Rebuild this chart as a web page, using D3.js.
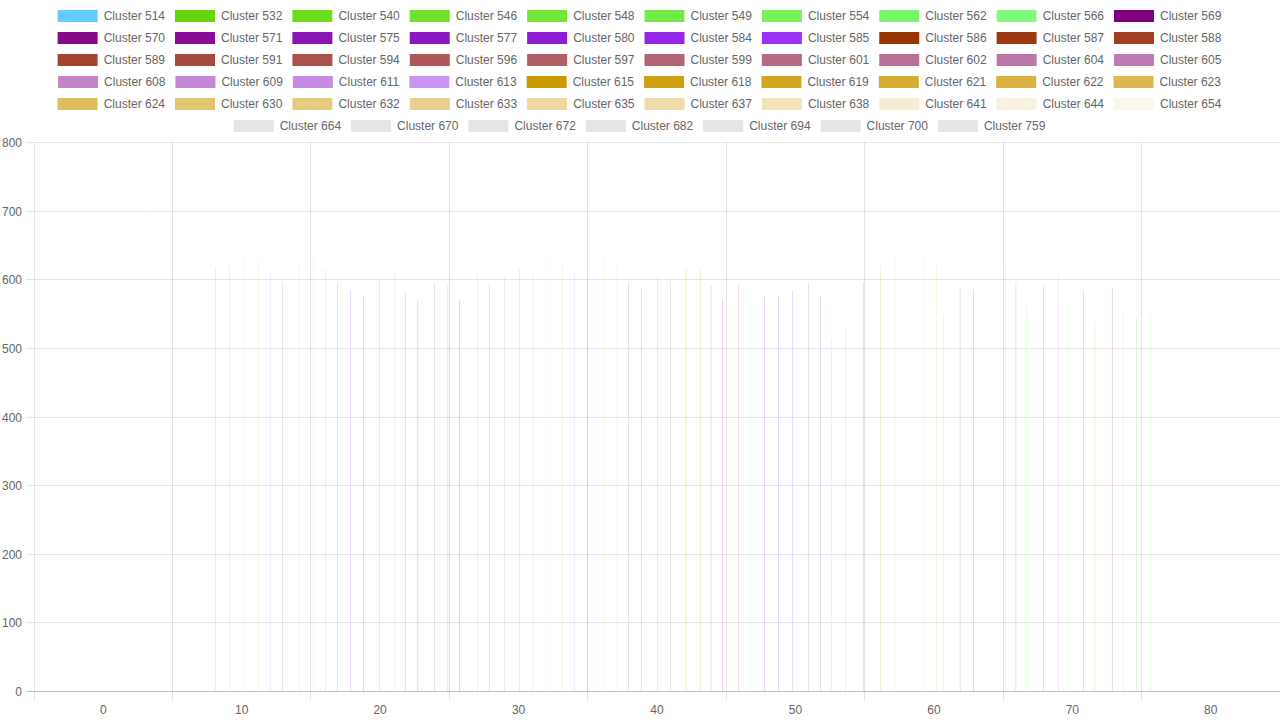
<!DOCTYPE html>
<html><head><meta charset="utf-8">
<script src="https://cdn.jsdelivr.net/npm/d3@7"></script>
<style>
body{margin:0;background:#fff}
svg{display:block;font-family:"Liberation Sans",Arial,Helvetica,sans-serif}
</style>
</head><body>
<svg id="chart" width="1280" height="720"></svg>
<script>
// ---- data ----
const clusters = [514,532,540,546,548,549,554,562,566,569,
  570,571,575,577,580,584,585,586,587,588,
  589,591,594,596,597,599,601,602,604,605,
  608,609,611,613,615,618,619,621,622,623,
  624,630,632,633,635,637,638,641,644,654,
  664,670,672,682,694,700,759];
const clusterColors = ["#66ccff","#67d40c","#6ddd1e","#70e22c","#73e63a","#73ea46","#77f25a","#7af86a","#80fc7a","#800080",
  "#840888","#870d98","#8a15b5","#8c18c4","#8e1ed4","#9326e8","#9a2ff5","#993300","#9e3811","#a23f22",
  "#a44330","#a84a3e","#ab524e","#ae585a","#b05e68","#b26474","#b56a86","#b87096","#bb76a8","#be7cb6",
  "#c282c6","#c488d6","#c68ce4","#c994f3","#cc9900","#d09f10","#d3a620","#d6ac30","#d9b240","#dcb74c",
  "#e0be60","#e2c470","#e6ca80","#e9d090","#ecd8a0","#eedcaa","#f2e2ba","#f6ecd4","#f8f0e0","#fbf6ec",
  "#e5e5e5","#e5e5e5","#e5e5e5","#e5e5e5","#e5e5e5","#e5e5e5","#e5e5e5"];
const barX = [0,1,2,3,4,5,6,7,8,9,10,11,12,13,14,15,16,17,18,19,
  20,21,22,23,24,25,26,27,28,29,30,31,32,33,34,35,36,37,38,39,
  40,41,42,43,44,45,46,47,48,49,50,51,52,53,54,55,56,57,58,59,
  60,61,62,63,64,65,66,67,68,69,70,71,72,73,74,75,76];
const barCluster = [672,664,694,700,682,670,654,641,619,621,633,630,611,597,623,632,615,596,585,575,
  601,613,580,569,596,591,570,608,594,604,615,609,637,622,611,602,630,623,597,587,
  605,599,618,619,591,571,594,566,577,577,584,596,577,514,532,597,621,635,644,638,
  624,548,589,586,759,622,596,562,591,605,566,584,540,588,554,546,549];
const barValues = [672,664,694,700,682,670,654,641,619,621,633,630,611,597,623,632,615,596,585,575,
  601,613,580,569,596,591,570,608,594,604,615,609,637,622,611,602,630,623,597,587,
  605,599,618,619,591,571,594,566,577,577,584,596,577,514,532,597,621,635,644,638,
  624,548,589,586,759,622,596,562,591,605,566,584,540,588,554,546,549];
const xTicks = [0,10,20,30,40,50,60,70,80];
const xGrid = [-5,5,15,25,35,45,55,65,75,85];
const yTicks = [0,100,200,300,400,500,600,700,800];
const legendRows = [10,10,10,10,10,7];

// ---- chart ----
const svg = d3.select("#chart");
const W = 1280;
const x = d3.scaleLinear().domain([-5,85]).range([34,1280]);
const y = d3.scaleLinear().domain([0,800]).range([691.5,142.5]);
const px = v => Math.floor(v) + 0.5;
const gridCol = "rgba(0,0,0,0.1)";

// horizontal grid + tick marks
const gy = svg.append("g");
gy.selectAll("line").data(yTicks).join("line")
  .attr("x1", 26).attr("x2", 1280)
  .attr("y1", d => px(y(d))).attr("y2", d => px(y(d)))
  .attr("stroke", d => d === 0 ? "rgba(0,0,0,0.25)" : gridCol).attr("stroke-width", 1);
gy.selectAll("text").data(yTicks).join("text")
  .attr("x", 22).attr("y", d => px(y(d)))
  .attr("text-anchor", "end").attr("dominant-baseline", "central")
  .attr("font-size", 12).attr("fill", "#666").text(d => d);

// vertical grid (offset between ticks)
const gx = svg.append("g");
gx.selectAll("line").data(xGrid).join("line")
  .attr("x1", d => px(x(d))).attr("x2", d => px(x(d)))
  .attr("y1", 142.5).attr("y2", 700)
  .attr("stroke", gridCol).attr("stroke-width", 1);
gx.selectAll("text").data(xTicks).join("text")
  .attr("x", d => x(d)).attr("y", 710)
  .attr("text-anchor", "middle").attr("dominant-baseline", "central")
  .attr("font-size", 12).attr("fill", "#666").text(d => d);

// bars: each bar belongs to its cluster dataset; grouped slot layout
const n = clusters.length;
const unit = x(1) - x(0);
const band = unit * 0.8;
const slot = band / n;
const bw = slot * 0.9;
const bars = barX.map((xv, k) => ({x: xv, v: barValues[k], ci: clusters.indexOf(barCluster[k])}));
svg.append("g").selectAll("rect").data(bars).join("rect")
  .attr("x", d => x(d.x) - band/2 + d.ci*slot + (slot - bw)/2)
  .attr("width", bw)
  .attr("y", d => y(d.v))
  .attr("height", d => y(0) - y(d.v))
  .attr("fill", d => clusterColors[d.ci]);

// legend
const lg = svg.append("g");
const tmp = lg.append("text").attr("font-size", 12);
const widths = clusters.map(c => { tmp.text("Cluster " + c); return tmp.node().getComputedTextLength(); });
tmp.remove();
let idx = 0;
legendRows.forEach((cnt, r) => {
  const items = d3.range(idx, idx + cnt);
  const itemW = items.map(i => 40 + 6 + widths[i] + 10);
  const rowW = d3.sum(itemW);
  let cx = (W - rowW) / 2 + 4.5;
  const cy = 16 + r * 22;
  items.forEach((i, j) => {
    lg.append("rect").attr("x", cx).attr("y", cy - 6).attr("width", 40).attr("height", 12)
      .attr("fill", clusterColors[i]);
    lg.append("text").attr("x", cx + 46).attr("y", cy).attr("dominant-baseline", "central")
      .attr("font-size", 12).attr("fill", "#666").text("Cluster " + clusters[i]);
    cx += itemW[j];
  });
  idx += cnt;
});
</script>
</body></html>
